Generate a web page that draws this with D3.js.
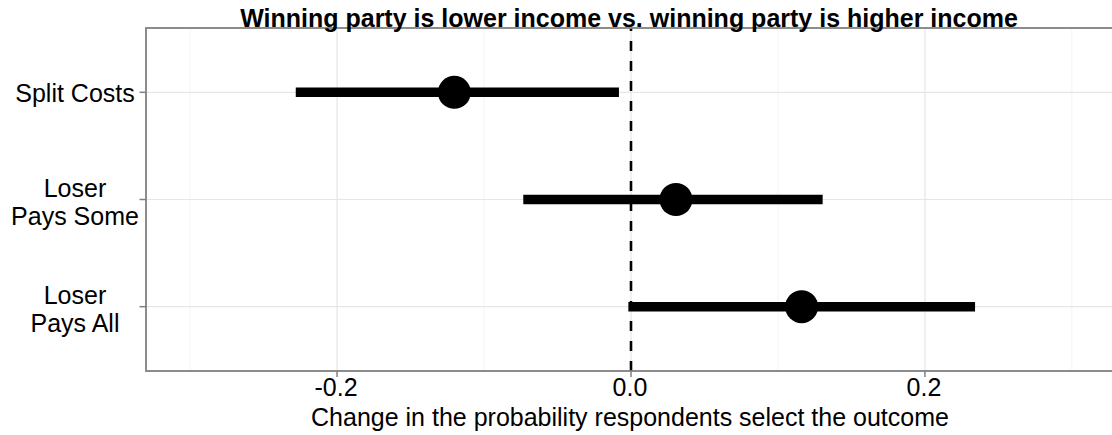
<!DOCTYPE html>
<html>
<head>
<meta charset="utf-8">
<script src="https://cdn.jsdelivr.net/npm/d3@7"></script>
<style>
  html, body { margin: 0; padding: 0; background: #fff; }
  svg { display: block; font-family: "Liberation Sans", Arial, sans-serif; }
</style>
</head>
<body>
<svg id="chart" width="1112" height="435"></svg>
<script>
// ---- data ----
const categories = ["Split Costs", "Loser Pays Some", "Loser Pays All"];
const categoryLines = [["Split Costs"], ["Loser", "Pays Some"], ["Loser", "Pays All"]];
const estimates = [-0.1202, 0.0306, 0.1161];
const lowerBounds = [-0.2281, -0.0733, -0.0018];
const upperBounds = [-0.0082, 0.1304, 0.2341];
const xTickValues = [-0.2, 0.0, 0.2];
const xTickLabels = ["-0.2", "0.0", "0.2"];
const xMinorValues = [-0.3, -0.1, 0.1, 0.3];
const titleText = "Winning party is lower income vs. winning party is higher income";
const xTitleText = "Change in the probability respondents select the outcome";

// ---- layout ----
const W = 1112, H = 435;
const panel = { left: 146, top: 28, right: 1116, bottom: 371 };
const svg = d3.select("#chart");

const x = d3.scaleLinear().domain([-0.33, 0.33]).range([panel.left, panel.right]);
const y = d3.scalePoint().domain(categories).range([panel.top, panel.bottom]).padding(0.6);

const g = svg.append("g");

// clip for panel
svg.append("defs").append("clipPath").attr("id", "pclip")
  .append("rect").attr("x", panel.left).attr("y", panel.top)
  .attr("width", panel.right - panel.left).attr("height", panel.bottom - panel.top);

const pg = g.append("g").attr("clip-path", "url(#pclip)");

// minor grid
pg.selectAll("line.minor").data(xMinorValues).enter().append("line")
  .attr("x1", d => x(d)).attr("x2", d => x(d))
  .attr("y1", panel.top).attr("y2", panel.bottom)
  .attr("stroke", "#f4f4f4").attr("stroke-width", 1);

// major grid vertical
pg.selectAll("line.majx").data(xTickValues).enter().append("line")
  .attr("x1", d => x(d)).attr("x2", d => x(d))
  .attr("y1", panel.top).attr("y2", panel.bottom)
  .attr("stroke", "#e6e6e6").attr("stroke-width", 1.2);

// major grid horizontal
pg.selectAll("line.majy").data(categories).enter().append("line")
  .attr("x1", panel.left).attr("x2", panel.right)
  .attr("y1", d => y(d)).attr("y2", d => y(d))
  .attr("stroke", "#e6e6e6").attr("stroke-width", 1.2);

// dashed zero line (drawn bottom to top)
pg.append("line")
  .attr("x1", x(0)).attr("x2", x(0))
  .attr("y1", panel.bottom).attr("y2", panel.top)
  .attr("stroke", "#000").attr("stroke-width", 2.6)
  .attr("stroke-dasharray", "10,10");

// error bars
pg.selectAll("line.err").data(categories).enter().append("line")
  .attr("x1", (d, i) => x(lowerBounds[i])).attr("x2", (d, i) => x(upperBounds[i]))
  .attr("y1", d => y(d)).attr("y2", d => y(d))
  .attr("stroke", "#000").attr("stroke-width", 9.5).attr("stroke-linecap", "butt");

// points
pg.selectAll("circle.pt").data(categories).enter().append("circle")
  .attr("cx", (d, i) => x(estimates[i])).attr("cy", d => y(d))
  .attr("r", 16.5).attr("fill", "#000");

// panel border
g.append("rect")
  .attr("x", panel.left).attr("y", panel.top)
  .attr("width", panel.right - panel.left).attr("height", panel.bottom - panel.top)
  .attr("fill", "none").attr("stroke", "#808080").attr("stroke-width", 1.8);

// x axis ticks
g.selectAll("line.xt").data(xTickValues).enter().append("line")
  .attr("x1", d => x(d)).attr("x2", d => x(d))
  .attr("y1", panel.bottom).attr("y2", panel.bottom + 6)
  .attr("stroke", "#808080").attr("stroke-width", 1.5);
g.selectAll("text.xt").data(xTickValues).enter().append("text")
  .attr("x", d => x(d) - 1).attr("y", 396)
  .attr("text-anchor", "middle").attr("font-size", 25).attr("fill", "#000")
  .text((d, i) => xTickLabels[i]);

// y axis ticks
g.selectAll("line.yt").data(categories).enter().append("line")
  .attr("x1", panel.left - 6.5).attr("x2", panel.left)
  .attr("y1", d => y(d)).attr("y2", d => y(d))
  .attr("stroke", "#808080").attr("stroke-width", 1.5);

categories.forEach((c, i) => {
  const lines = categoryLines[i];
  const cy = y(c);
  const t = g.append("text").attr("text-anchor", "middle")
    .attr("font-size", 25).attr("fill", "#000");
  if (lines.length === 1) {
    t.append("tspan").attr("x", 75).attr("y", cy + 10).text(lines[0]);
  } else {
    lines.forEach((ln, k) => {
      t.append("tspan").attr("x", 75).attr("y", cy - 3 + k * 28.3).text(ln);
    });
  }
});

// axis title
g.append("text").attr("x", 630).attr("y", 426)
  .attr("text-anchor", "middle").attr("font-size", 25).attr("fill", "#000")
  .text(xTitleText);

// plot title
g.append("text").attr("x", 629).attr("y", 27)
  .attr("text-anchor", "middle").attr("font-size", 25).attr("font-weight", "bold")
  .attr("fill", "#000").text(titleText);
</script>
</body>
</html>
